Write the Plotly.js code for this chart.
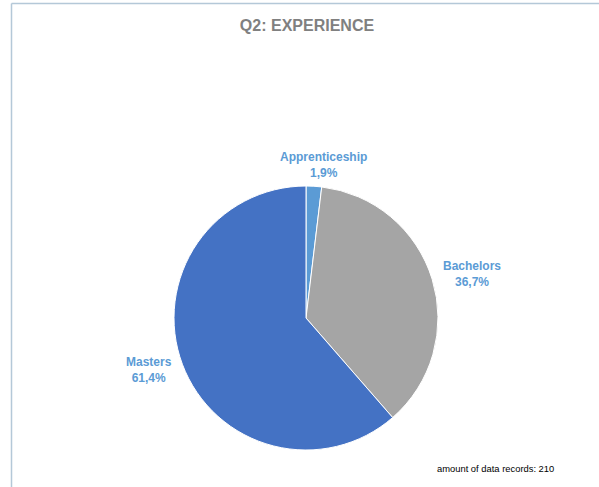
<!DOCTYPE html>
<html>
<head>
<meta charset="utf-8">
<script src="https://cdn.plot.ly/plotly-3.0.1.min.js"></script>
<style>
html,body{margin:0;padding:0;background:#fff;}
#chart{width:599px;height:487px;}
</style>
</head>
<body>
<div id="chart"></div>
<script>
const categories = ["Apprenticeship", "Bachelors", "Masters"];
const values = [1.9, 36.7, 61.4];
const valueLabels = ["1,9%", "36,7%", "61,4%"];
const colors = ["#5B9BD5", "#A5A5A5", "#4472C4"];
const titleText = "Q2: EXPERIENCE";
const footerText = "amount of data records: 210";

const W = 599, H = 487;
const cx = 306, cy = 318, R = 132;
// label placement (pixels), layout only
const labelPos = [[323.5, 165.5], [471.5, 274], [149, 369.5]];

const annotations = categories.map((c, i) => ({
  xref: "paper", yref: "paper",
  x: labelPos[i][0] / W, y: 1 - labelPos[i][1] / H,
  xanchor: "center", yanchor: "middle",
  text: c + "<br>" + valueLabels[i],
  showarrow: false,
  font: {family: "Liberation Sans, Arial, sans-serif", size: 12, color: "#5B9BD5", weight: "bold"}
}));
annotations.push({
  xref: "paper", yref: "paper",
  x: 495 / W, y: 1 - 468 / H,
  xanchor: "center", yanchor: "middle",
  text: footerText, showarrow: false,
  font: {family: "Liberation Sans, Arial, sans-serif", size: 9.4, color: "#000"}
});

const trace = {
  type: "pie",
  labels: categories,
  values: values,
  sort: false,
  direction: "clockwise",
  rotation: 0,
  textinfo: "none",
  hoverinfo: "label+percent",
  marker: {colors: colors, line: {color: "#ffffff", width: 1}},
  domain: {x: [(cx - R) / W, (cx + R) / W], y: [1 - (cy + R) / H, 1 - (cy - R) / H]},
  showlegend: false
};

const layout = {
  width: W, height: H,
  margin: {l: 0, r: 0, t: 0, b: 0},
  paper_bgcolor: "#fff",
  title: {
    text: "<b>" + titleText + "</b>",
    x: 307 / W, xanchor: "center",
    y: 1 - 25 / H, yanchor: "middle",
    font: {family: "Liberation Sans, Arial, sans-serif", size: 16, color: "#808080"}
  },
  annotations: annotations,
  shapes: [
    {type: "line", xref: "paper", yref: "paper", x0: 11.5 / W, x1: 11.5 / W, y0: 0, y1: 1 - 3.5 / H, line: {color: "#B4C8D8", width: 1.5}},
    {type: "line", xref: "paper", yref: "paper", x0: 11.5 / W, x1: 1, y0: 1 - 3.5 / H, y1: 1 - 3.5 / H, line: {color: "#B4C8D8", width: 1.5}}
  ]
};

Plotly.newPlot("chart", [trace], layout, {displayModeBar: false, staticPlot: true});
</script>
</body>
</html>
